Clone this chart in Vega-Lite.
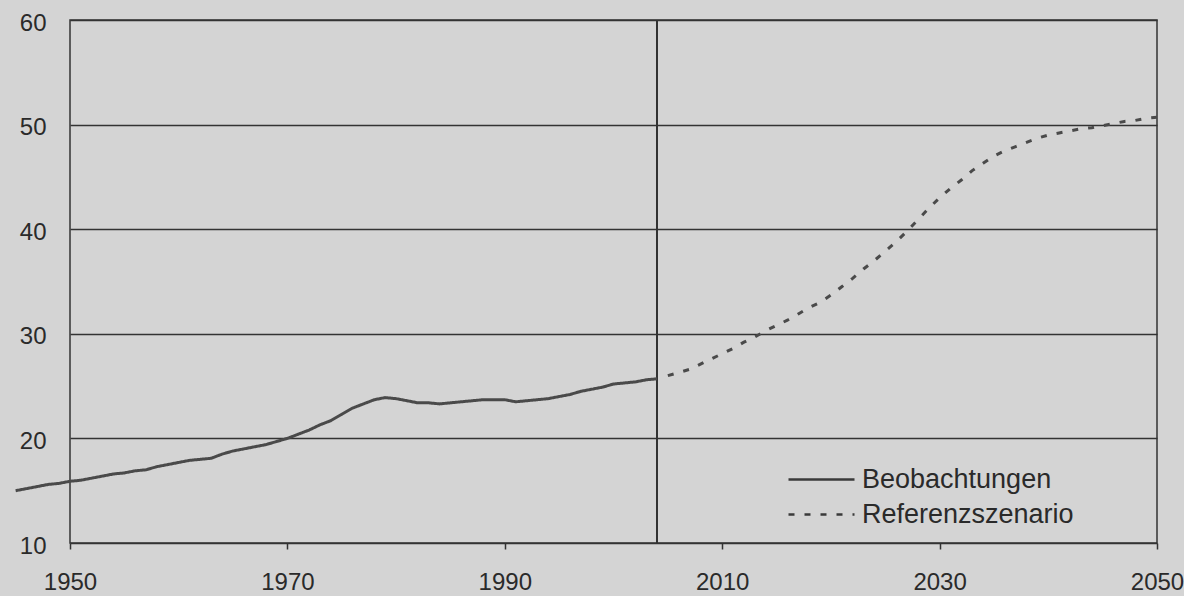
{
  "$schema": "https://vega.github.io/schema/vega-lite/v6.json",
  "autosize": {"type": "none"},
  "width": 1087,
  "height": 523,
  "padding": {"left": 70, "top": 20, "right": 27, "bottom": 53},
  "background": "#d4d4d4",
  "config": {
    "view": {"stroke": "#333333", "strokeWidth": 1.5},
    "font": "Liberation Sans",
    "axis": {"labelFont": "Liberation Sans", "labelFontSize": 24, "labelColor": "#2a2a2a"}
  },
  "data": {"values": [
    {"year": 1945, "value": 15.0, "series": "Beobachtungen"},
    {"year": 1946, "value": 15.2, "series": "Beobachtungen"},
    {"year": 1947, "value": 15.4, "series": "Beobachtungen"},
    {"year": 1948, "value": 15.6, "series": "Beobachtungen"},
    {"year": 1949, "value": 15.7, "series": "Beobachtungen"},
    {"year": 1950, "value": 15.9, "series": "Beobachtungen"},
    {"year": 1951, "value": 16.0, "series": "Beobachtungen"},
    {"year": 1952, "value": 16.2, "series": "Beobachtungen"},
    {"year": 1953, "value": 16.4, "series": "Beobachtungen"},
    {"year": 1954, "value": 16.6, "series": "Beobachtungen"},
    {"year": 1955, "value": 16.7, "series": "Beobachtungen"},
    {"year": 1956, "value": 16.9, "series": "Beobachtungen"},
    {"year": 1957, "value": 17.0, "series": "Beobachtungen"},
    {"year": 1958, "value": 17.3, "series": "Beobachtungen"},
    {"year": 1959, "value": 17.5, "series": "Beobachtungen"},
    {"year": 1960, "value": 17.7, "series": "Beobachtungen"},
    {"year": 1961, "value": 17.9, "series": "Beobachtungen"},
    {"year": 1962, "value": 18.0, "series": "Beobachtungen"},
    {"year": 1963, "value": 18.1, "series": "Beobachtungen"},
    {"year": 1964, "value": 18.5, "series": "Beobachtungen"},
    {"year": 1965, "value": 18.8, "series": "Beobachtungen"},
    {"year": 1966, "value": 19.0, "series": "Beobachtungen"},
    {"year": 1967, "value": 19.2, "series": "Beobachtungen"},
    {"year": 1968, "value": 19.4, "series": "Beobachtungen"},
    {"year": 1969, "value": 19.7, "series": "Beobachtungen"},
    {"year": 1970, "value": 20.0, "series": "Beobachtungen"},
    {"year": 1971, "value": 20.4, "series": "Beobachtungen"},
    {"year": 1972, "value": 20.8, "series": "Beobachtungen"},
    {"year": 1973, "value": 21.3, "series": "Beobachtungen"},
    {"year": 1974, "value": 21.7, "series": "Beobachtungen"},
    {"year": 1975, "value": 22.3, "series": "Beobachtungen"},
    {"year": 1976, "value": 22.9, "series": "Beobachtungen"},
    {"year": 1977, "value": 23.3, "series": "Beobachtungen"},
    {"year": 1978, "value": 23.7, "series": "Beobachtungen"},
    {"year": 1979, "value": 23.9, "series": "Beobachtungen"},
    {"year": 1980, "value": 23.8, "series": "Beobachtungen"},
    {"year": 1981, "value": 23.6, "series": "Beobachtungen"},
    {"year": 1982, "value": 23.4, "series": "Beobachtungen"},
    {"year": 1983, "value": 23.4, "series": "Beobachtungen"},
    {"year": 1984, "value": 23.3, "series": "Beobachtungen"},
    {"year": 1985, "value": 23.4, "series": "Beobachtungen"},
    {"year": 1986, "value": 23.5, "series": "Beobachtungen"},
    {"year": 1987, "value": 23.6, "series": "Beobachtungen"},
    {"year": 1988, "value": 23.7, "series": "Beobachtungen"},
    {"year": 1989, "value": 23.7, "series": "Beobachtungen"},
    {"year": 1990, "value": 23.7, "series": "Beobachtungen"},
    {"year": 1991, "value": 23.5, "series": "Beobachtungen"},
    {"year": 1992, "value": 23.6, "series": "Beobachtungen"},
    {"year": 1993, "value": 23.7, "series": "Beobachtungen"},
    {"year": 1994, "value": 23.8, "series": "Beobachtungen"},
    {"year": 1995, "value": 24.0, "series": "Beobachtungen"},
    {"year": 1996, "value": 24.2, "series": "Beobachtungen"},
    {"year": 1997, "value": 24.5, "series": "Beobachtungen"},
    {"year": 1998, "value": 24.7, "series": "Beobachtungen"},
    {"year": 1999, "value": 24.9, "series": "Beobachtungen"},
    {"year": 2000, "value": 25.2, "series": "Beobachtungen"},
    {"year": 2001, "value": 25.3, "series": "Beobachtungen"},
    {"year": 2002, "value": 25.4, "series": "Beobachtungen"},
    {"year": 2003, "value": 25.6, "series": "Beobachtungen"},
    {"year": 2004, "value": 25.7, "series": "Beobachtungen"},
    {"year": 2005, "value": 26.0, "series": "Referenzszenario"},
    {"year": 2006, "value": 26.3, "series": "Referenzszenario"},
    {"year": 2007, "value": 26.6, "series": "Referenzszenario"},
    {"year": 2008, "value": 27.1, "series": "Referenzszenario"},
    {"year": 2009, "value": 27.6, "series": "Referenzszenario"},
    {"year": 2010, "value": 28.1, "series": "Referenzszenario"},
    {"year": 2011, "value": 28.6, "series": "Referenzszenario"},
    {"year": 2012, "value": 29.2, "series": "Referenzszenario"},
    {"year": 2013, "value": 29.7, "series": "Referenzszenario"},
    {"year": 2014, "value": 30.3, "series": "Referenzszenario"},
    {"year": 2015, "value": 30.8, "series": "Referenzszenario"},
    {"year": 2016, "value": 31.3, "series": "Referenzszenario"},
    {"year": 2017, "value": 31.9, "series": "Referenzszenario"},
    {"year": 2018, "value": 32.5, "series": "Referenzszenario"},
    {"year": 2019, "value": 33.0, "series": "Referenzszenario"},
    {"year": 2020, "value": 33.7, "series": "Referenzszenario"},
    {"year": 2021, "value": 34.5, "series": "Referenzszenario"},
    {"year": 2022, "value": 35.3, "series": "Referenzszenario"},
    {"year": 2023, "value": 36.2, "series": "Referenzszenario"},
    {"year": 2024, "value": 37.0, "series": "Referenzszenario"},
    {"year": 2025, "value": 37.9, "series": "Referenzszenario"},
    {"year": 2026, "value": 38.8, "series": "Referenzszenario"},
    {"year": 2027, "value": 39.8, "series": "Referenzszenario"},
    {"year": 2028, "value": 40.9, "series": "Referenzszenario"},
    {"year": 2029, "value": 42.0, "series": "Referenzszenario"},
    {"year": 2030, "value": 43.0, "series": "Referenzszenario"},
    {"year": 2031, "value": 43.9, "series": "Referenzszenario"},
    {"year": 2032, "value": 44.7, "series": "Referenzszenario"},
    {"year": 2033, "value": 45.6, "series": "Referenzszenario"},
    {"year": 2034, "value": 46.3, "series": "Referenzszenario"},
    {"year": 2035, "value": 47.0, "series": "Referenzszenario"},
    {"year": 2036, "value": 47.5, "series": "Referenzszenario"},
    {"year": 2037, "value": 47.9, "series": "Referenzszenario"},
    {"year": 2038, "value": 48.3, "series": "Referenzszenario"},
    {"year": 2039, "value": 48.7, "series": "Referenzszenario"},
    {"year": 2040, "value": 49.0, "series": "Referenzszenario"},
    {"year": 2041, "value": 49.2, "series": "Referenzszenario"},
    {"year": 2042, "value": 49.4, "series": "Referenzszenario"},
    {"year": 2043, "value": 49.6, "series": "Referenzszenario"},
    {"year": 2044, "value": 49.7, "series": "Referenzszenario"},
    {"year": 2045, "value": 49.9, "series": "Referenzszenario"},
    {"year": 2046, "value": 50.1, "series": "Referenzszenario"},
    {"year": 2047, "value": 50.3, "series": "Referenzszenario"},
    {"year": 2048, "value": 50.4, "series": "Referenzszenario"},
    {"year": 2049, "value": 50.6, "series": "Referenzszenario"},
    {"year": 2050, "value": 50.7, "series": "Referenzszenario"}
  ]},
  "layer": [
    {
      "mark": {"type": "rule", "color": "#333333", "strokeWidth": 1.5},
      "encoding": {"x": {"datum": 2004, "type": "quantitative"}}
    },
    {
      "mark": {"type": "line", "clip": false, "strokeWidth": 3, "color": "#4a4a4a"},
      "encoding": {
        "x": {
          "field": "year", "type": "quantitative",
          "scale": {"domain": [1950, 2050], "nice": false, "zero": false},
          "axis": {
            "title": null, "values": [1950, 1970, 1990, 2010, 2030, 2050], "format": "d",
            "grid": false, "domain": false, "ticks": true, "tickColor": "#333333", "tickSize": 6, "tickWidth": 1.5,
            "labelPadding": 21, "labelFlush": false
          }
        },
        "y": {
          "field": "value", "type": "quantitative",
          "scale": {"domain": [10, 60], "nice": false, "zero": false},
          "axis": {
            "title": null, "values": [10, 20, 30, 40, 50, 60], "grid": true, "gridColor": "#333333",
            "gridWidth": 1.5, "gridOpacity": 1, "domain": false, "ticks": false, "labelPadding": 24,
            "labelOffset": 3
          }
        },
        "strokeDash": {
          "field": "series", "type": "nominal",
          "scale": {"domain": ["Beobachtungen", "Referenzszenario"], "range": [[1, 0], [6, 10]]},
          "legend": {
            "title": null, "orient": "none", "legendX": 717, "legendY": 442,
            "symbolType": "stroke", "symbolSize": 4356, "symbolStrokeWidth": 2.5,
            "symbolStrokeColor": "#3a3a3a", "labelFontSize": 27, "labelFont": "Liberation Sans",
            "labelColor": "#2a2a2a", "labelOffset": 6, "labelLimit": 0, "rowPadding": 0, "clipHeight": 35, "padding": 0
          }
        }
      }
    }
  ]
}
